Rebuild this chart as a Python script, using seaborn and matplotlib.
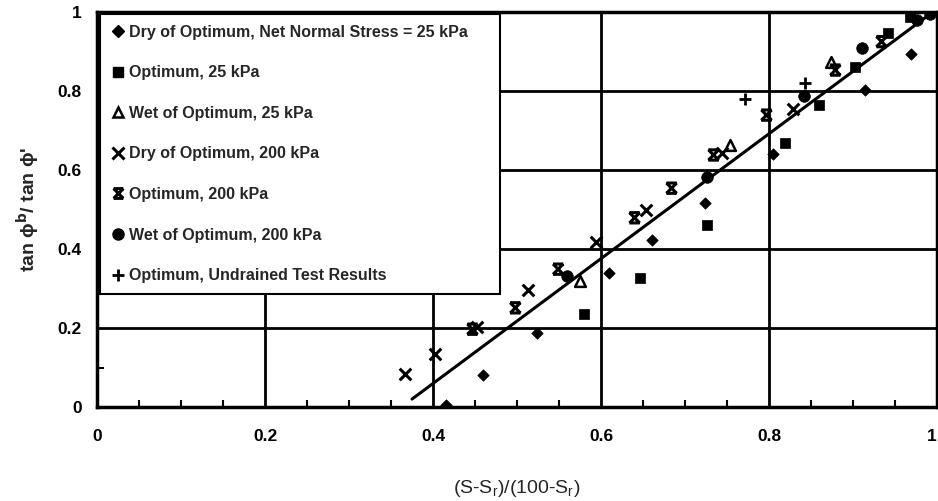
import matplotlib
matplotlib.use("Agg")
import numpy as np
import matplotlib.pyplot as plt
from matplotlib.path import Path
from matplotlib.lines import Line2D
import seaborn as sns

# ---------------- data ----------------
dry25_x = [0.415, 0.460, 0.524, 0.610, 0.661, 0.724, 0.805, 0.914, 0.969]
dry25_y = [0.005, 0.081, 0.188, 0.340, 0.423, 0.516, 0.640, 0.803, 0.893]

opt25_x = [0.580, 0.647, 0.726, 0.819, 0.859, 0.902, 0.942, 0.968]
opt25_y = [0.235, 0.327, 0.462, 0.668, 0.765, 0.860, 0.946, 0.988]

wet25_x = [0.575, 0.753, 0.874]
wet25_y = [0.320, 0.663, 0.874]

dry200_x = [0.367, 0.402, 0.452, 0.513, 0.594, 0.654, 0.744, 0.829]
dry200_y = [0.084, 0.134, 0.202, 0.296, 0.418, 0.499, 0.642, 0.754]

opt200_x = [0.447, 0.498, 0.549, 0.640, 0.684, 0.734, 0.797, 0.879, 0.934]
opt200_y = [0.197, 0.251, 0.349, 0.479, 0.554, 0.638, 0.739, 0.853, 0.925]

wet200_x = [0.559, 0.726, 0.842, 0.911, 0.976, 0.992]
wet200_y = [0.332, 0.583, 0.787, 0.910, 0.980, 0.996]

undr_x = [0.771, 0.843]
undr_y = [0.781, 0.820]

fit_x = [0.375, 0.995]
fit_y = [0.020, 1.000]

labels = [
    "Dry of Optimum, Net Normal Stress = 25 kPa",
    "Optimum, 25 kPa",
    "Wet of Optimum, 25 kPa",
    "Dry of Optimum, 200 kPa",
    "Optimum, 200 kPa",
    "Wet of Optimum, 200 kPa",
    "Optimum, Undrained Test Results",
]
tick_vals = [0, 0.2, 0.4, 0.6, 0.8, 1.0]
tick_labels = ["0", "0.2", "0.4", "0.6", "0.8", "1"]

# ---------------- styling ----------------
sns.set_theme(style="white")
plt.rcParams['font.family'] = ['Liberation Sans', 'DejaVu Sans']

fig = plt.figure(figsize=(9.38, 5.01), dpi=100)
ax = fig.add_axes([97 / 938, 1 - 407 / 501, 840 / 938, 395 / 501])

# custom "X with bars" marker for Optimum, 200 kPa
xbar = Path(
    [(-1, -1), (1, 1), (-1, 1), (1, -1), (-1, 1), (1, 1), (-1, -1), (1, -1)],
    [Path.MOVETO, Path.LINETO, Path.MOVETO, Path.LINETO,
     Path.MOVETO, Path.LINETO, Path.MOVETO, Path.LINETO],
)

sns.scatterplot(x=dry25_x, y=dry25_y, marker="D", s=34, color="black",
                edgecolor="black", linewidth=0.5, ax=ax, zorder=3)
sns.scatterplot(x=opt25_x, y=opt25_y, marker="s", s=52, color="black",
                edgecolor="black", linewidth=0.5, ax=ax, zorder=3)
sns.scatterplot(x=wet25_x, y=wet25_y, marker="^", s=60, facecolor="white",
                edgecolor="black", linewidth=1.8, ax=ax, zorder=3)
sns.scatterplot(x=dry200_x, y=dry200_y, marker="x", s=70, color="black",
                linewidth=2.2, ax=ax, zorder=3)
sns.scatterplot(x=opt200_x, y=opt200_y, marker=xbar, s=55, facecolor="none",
                edgecolor="black", linewidth=2.2, ax=ax, zorder=3)
sns.scatterplot(x=wet200_x, y=wet200_y, marker="o", s=70, color="black",
                edgecolor="black", linewidth=0.5, ax=ax, zorder=3)
sns.scatterplot(x=undr_x, y=undr_y, marker="+", s=80, color="black",
                linewidth=2.0, ax=ax, zorder=3)
sns.lineplot(x=fit_x, y=fit_y, color="black", linewidth=2.2, ax=ax, zorder=2)

ax.set_xlim(0, 1)
ax.set_ylim(0, 1)
ax.set_xticks(tick_vals)
ax.set_yticks(tick_vals)
ax.set_xticklabels(tick_labels, fontsize=12.5, fontweight="bold")
ax.set_yticklabels(tick_labels, fontsize=12.5, fontweight="bold")
ax.get_xticklabels()[-1].set_horizontalalignment("right")
ax.set_xticks(np.arange(0, 1.0001, 0.05), minor=True)
ax.set_yticks(np.arange(0, 1.0001, 0.1), minor=True)
ax.tick_params(axis="both", which="major", length=0, colors="black")
ax.tick_params(axis="x", which="major", pad=16)
ax.tick_params(axis="y", which="major", pad=11)
ax.tick_params(axis="both", which="minor", direction="in", length=5,
               width=1.5, color="black", bottom=True, left=True)
ax.grid(True, which="major", color="black", linewidth=2)
ax.set_axisbelow(True)
for sp in ax.spines.values():
    sp.set_color("black")
    sp.set_linewidth(2.5)

ax.set_xlabel("(S-S$_\\mathregular{r}$)/(100-S$_\\mathregular{r}$)", fontsize=14)
ax.xaxis.set_label_coords(0.5, -0.18)
ax.set_ylabel("tan ϕ$^{\\mathbf{b}}$/ tan ϕ'", fontsize=14,
              fontweight="bold")
ax.yaxis.set_label_coords(-0.066, 0.5)

handles = [
    Line2D([], [], ls="none", marker="D", color="black", markersize=6),
    Line2D([], [], ls="none", marker="s", color="black", markersize=7),
    Line2D([], [], ls="none", marker="^", markerfacecolor="white",
           markeredgecolor="black", markeredgewidth=1.8, markersize=7),
    Line2D([], [], ls="none", marker="x", color="black", markersize=8,
           markeredgewidth=2.2),
    Line2D([], [], ls="none", marker=xbar, color="black", markersize=7,
           markerfacecolor="none", markeredgewidth=2.2),
    Line2D([], [], ls="none", marker="o", color="black", markersize=8),
    Line2D([], [], ls="none", marker="+", color="black", markersize=9,
           markeredgewidth=2.0),
]
leg = ax.legend(handles, labels, loc="upper left",
                bbox_to_anchor=(0.004, 0.28, 0.476, 0.716), mode="expand",
                frameon=True, fancybox=False, edgecolor="black", framealpha=1,
                prop=dict(weight="bold", size=11.5), labelspacing=1.6,
                handlelength=0.8, handletextpad=0.3, borderpad=0.7,
                borderaxespad=0)
leg.get_frame().set_linewidth(1.5)
leg.set_zorder(5)

fig.savefig("out.png", dpi=100)
